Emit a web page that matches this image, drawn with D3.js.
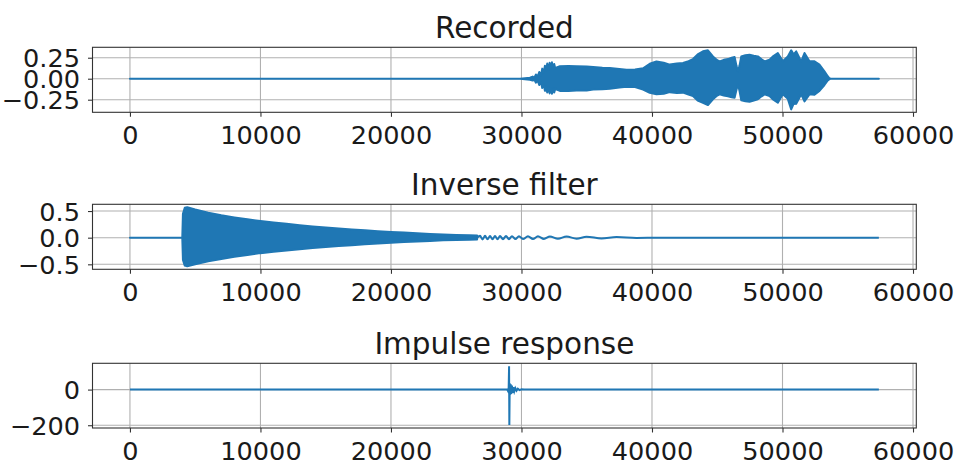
<!DOCTYPE html>
<html>
<head>
<meta charset="utf-8">
<script src="https://cdn.jsdelivr.net/npm/d3@7"></script>
<style>
  html, body { margin: 0; padding: 0; background: #ffffff; }
  svg { display: block; }
  text { font-family: "DejaVu Sans", sans-serif; fill: #1a1a1a; }
</style>
</head>
<body>
<svg id="chart" width="955" height="462"></svg>
<script>
// ---------------- DATA ----------------
const lastSample = 57383;
const xTicks = [0, 10000, 20000, 30000, 40000, 50000, 60000];
const titles = ["Recorded", "Inverse filter", "Impulse response"];

// Recorded signal: envelope (sample index, upper, lower)
const recX  = [0, 29884, 30267, 30649, 30855, 30979, 31108, 31237, 31361, 31491, 31590, 31697, 31797, 31889, 31973, 32065, 32157, 32241, 32333, 32424, 32508, 32600, 32692, 32944, 33600, 34222, 35000, 35492, 36200, 36769, 37500, 38046, 38700, 39316, 39829, 40341, 40900, 41358, 41900, 42375, 42800, 43140, 43500, 43905, 44288, 44670, 45000, 45183, 45500, 45818, 46100, 46330, 46480, 46582, 46700, 46842, 47150, 47477, 47800, 48112, 48400, 48625, 49007, 49300, 49642, 50025, 50407, 50667, 50850, 51050, 51432, 51685, 52067, 52450, 52832, 53215, 53467, 53597, 53700, 57383];
const recHi = [0, 0, 0.006, 0.012, 0.025, 0.01, 0.05, 0.025, 0.08, 0.04, 0.12, 0.07, 0.155, 0.1, 0.18, 0.11, 0.19, 0.12, 0.195, 0.13, 0.175, 0.12, 0.135, 0.148, 0.15, 0.148, 0.145, 0.14, 0.13, 0.127, 0.115, 0.107, 0.11, 0.125, 0.178, 0.205, 0.19, 0.168, 0.18, 0.187, 0.21, 0.234, 0.29, 0.326, 0.338, 0.266, 0.22, 0.207, 0.225, 0.234, 0.25, 0.258, 0.15, 0.088, 0.15, 0.266, 0.28, 0.286, 0.275, 0.266, 0.23, 0.207, 0.226, 0.27, 0.306, 0.207, 0.266, 0.339, 0.29, 0.326, 0.207, 0.306, 0.207, 0.207, 0.167, 0.088, 0.03, 0.005, 0, 0];
const recLo = [0, 0, -0.006, -0.012, -0.022, -0.01, -0.048, -0.022, -0.075, -0.038, -0.11, -0.065, -0.145, -0.09, -0.165, -0.1, -0.175, -0.11, -0.18, -0.12, -0.165, -0.115, -0.13, -0.145, -0.145, -0.14, -0.14, -0.13, -0.125, -0.12, -0.105, -0.095, -0.1, -0.13, -0.168, -0.186, -0.18, -0.16, -0.17, -0.166, -0.19, -0.206, -0.26, -0.286, -0.313, -0.245, -0.2, -0.186, -0.2, -0.21, -0.22, -0.226, -0.13, -0.067, -0.14, -0.258, -0.27, -0.274, -0.26, -0.245, -0.21, -0.186, -0.206, -0.25, -0.286, -0.186, -0.24, -0.365, -0.3, -0.298, -0.186, -0.27, -0.186, -0.19, -0.146, -0.075, -0.02, -0.005, 0, 0];

// Inverse filter: decaying sweep envelope
const invX  = [0, 4010, 4060, 4200, 4390, 5000, 6000, 7000, 8000, 9000, 10000, 11000, 12000, 13000, 14000, 15000, 16000, 17000, 18000, 19000, 20000, 21000, 22000, 23000, 24000, 25000, 26000, 26600];
const invHi = [0, 0, 0.45, 0.56, 0.571, 0.53, 0.47, 0.42, 0.38, 0.345, 0.313, 0.285, 0.26, 0.235, 0.21, 0.19, 0.172, 0.155, 0.138, 0.122, 0.108, 0.095, 0.082, 0.07, 0.06, 0.052, 0.045, 0.04];
const invLo = [0, 0, -0.42, -0.525, -0.538, -0.5, -0.445, -0.4, -0.36, -0.325, -0.29, -0.265, -0.24, -0.215, -0.195, -0.175, -0.155, -0.14, -0.122, -0.108, -0.094, -0.082, -0.07, -0.06, -0.05, -0.044, -0.038, -0.034];
// Inverse filter: low-frequency tail (individual swings)
const invTailX = [26600, 26825, 27016, 27208, 27399, 27590, 27781, 27972, 28164, 28355, 28584, 28814, 29043, 29273, 29540, 29808, 30114, 30496, 30879, 31261, 31720, 32179, 32791, 33456, 34221, 34986, 36134, 37281, 38811, 40500, 57383];
const invTailY = [0, 0.035, -0.032, 0.034, -0.031, 0.033, -0.03, 0.032, -0.03, 0.031, -0.029, 0.03, -0.028, 0.029, -0.027, 0.028, -0.026, 0.027, -0.025, 0.026, -0.024, 0.024, -0.022, 0.022, -0.019, 0.018, -0.014, 0.011, -0.005, 0, 0];

// Impulse response
const irX = [0, 28900, 28980, 29020, 29050, 29070, 29100, 29140, 29180, 29220, 29270, 29320, 29380, 29450, 29530, 29620, 29720, 29850, 30000, 30200, 57383];
const irY = [0, 0, -10, 12, 131, -199, 35, -28, 30, -25, 22, -18, 14, -10, 8, -6, 5, -3, 2, 0, 0];

const yTicks1 = [-0.25, 0, 0.25];
const yTicks2 = [-0.5, 0, 0.5];
const yTicks3 = [-200, 0];

// ---------------- LAYOUT ----------------
const W = 955, H = 462;
const left = 92.5, right = 916.3;
const panels = [
  { top: 47.3,  bottom: 112.3, ticks: yTicks1, fmt: d3.format(".2f") },
  { top: 204.3, bottom: 269.3, ticks: yTicks2, fmt: d3.format(".1f") },
  { top: 363.3, bottom: 428.0, ticks: yTicks3, fmt: d3.format("d") }
];
const blue = "#1f77b4";
const svg = d3.select("#chart");
svg.append("rect").attr("width", W).attr("height", H).attr("fill", "#fff");

const xPad = lastSample * 0.05;
const x = d3.scaleLinear().domain([-xPad, lastSample + xPad]).range([left, right]);

function yScaleFor(minV, maxV, p) {
  const m = (maxV - minV) * 0.05;
  return d3.scaleLinear().domain([minV - m, maxV + m]).range([p.bottom, p.top]);
}

const yScales = [
  yScaleFor(d3.min(recLo), d3.max(recHi), panels[0]),
  yScaleFor(Math.min(d3.min(invLo), d3.min(invTailY)), Math.max(d3.max(invHi), d3.max(invTailY)), panels[1]),
  yScaleFor(d3.min(irY), d3.max(irY), panels[2])
];

panels.forEach((p, i) => {
  const y = yScales[i];
  const g = svg.append("g");
  // grid
  g.selectAll("line.gx").data(xTicks).join("line")
    .attr("x1", d => x(d)).attr("x2", d => x(d))
    .attr("y1", p.top).attr("y2", p.bottom)
    .attr("stroke", "#b0b0b0").attr("stroke-width", 1.1);
  g.selectAll("line.gy").data(p.ticks).join("line")
    .attr("x1", left).attr("x2", right)
    .attr("y1", d => y(d)).attr("y2", d => y(d))
    .attr("stroke", "#b0b0b0").attr("stroke-width", 1.1);

  // clip
  svg.append("clipPath").attr("id", "clip" + i)
    .append("rect").attr("x", left).attr("y", p.top)
    .attr("width", right - left).attr("height", p.bottom - p.top);

  const dg = svg.append("g").attr("clip-path", `url(#clip${i})`);

  if (i === 0) {
    const pts = recX.map((v, k) => ({ x: v, hi: recHi[k], lo: recLo[k] }));
    dg.append("path").datum(pts)
      .attr("d", d3.area().x(d => x(d.x)).y0(d => y(d.lo)).y1(d => y(d.hi)))
      .attr("fill", blue).attr("stroke", blue).attr("stroke-width", 2).attr("stroke-linejoin", "round");
  } else if (i === 1) {
    const pts = invX.map((v, k) => ({ x: v, hi: invHi[k], lo: invLo[k] }));
    dg.append("path").datum(pts)
      .attr("d", d3.area().x(d => x(d.x)).y0(d => y(d.lo)).y1(d => y(d.hi)))
      .attr("fill", blue).attr("stroke", blue).attr("stroke-width", 2).attr("stroke-linejoin", "round");
    const tail = invTailX.map((v, k) => ({ x: v, y: invTailY[k] }));
    dg.append("path").datum(tail)
      .attr("d", d3.line().x(d => x(d.x)).y(d => y(d.y)).curve(d3.curveMonotoneX))
      .attr("fill", "none").attr("stroke", blue).attr("stroke-width", 2);
  } else {
    const pts = irX.map((v, k) => ({ x: v, y: irY[k] }));
    dg.append("path").datum(pts)
      .attr("d", d3.line().x(d => x(d.x)).y(d => y(d.y)))
      .attr("fill", "none").attr("stroke", blue).attr("stroke-width", 2);
  }

  // frame
  g.append("rect").attr("x", left).attr("y", p.top)
    .attr("width", right - left).attr("height", p.bottom - p.top)
    .attr("fill", "none").attr("stroke", "#333").attr("stroke-width", 1.1);

  // axes
  const ax = svg.append("g").attr("transform", `translate(0,${p.bottom})`)
    .call(d3.axisBottom(x).tickValues(xTicks).tickFormat(d3.format("d")).tickSize(4.5).tickPadding(9.5).tickSizeOuter(0));
  const ay = svg.append("g").attr("transform", `translate(${left},0)`)
    .call(d3.axisLeft(y).tickValues(p.ticks).tickFormat(p.fmt).tickSize(4.5).tickPadding(8).tickSizeOuter(0));
  [ax, ay].forEach(a => {
    a.select(".domain").remove();
    a.selectAll(".tick line").attr("stroke", "#333").attr("stroke-width", 1.1);
    a.selectAll(".tick text").attr("font-size", 25.6).attr("fill", "#1a1a1a")
      .attr("font-family", "DejaVu Sans");
  });
  ay.selectAll(".tick text").attr("dy", "0.36em");

  // title
  svg.append("text").attr("x", (left + right) / 2).attr("y", p.top - 9.5)
    .attr("text-anchor", "middle").attr("font-size", 29.5).text(titles[i]);
});
</script>
</body>
</html>
